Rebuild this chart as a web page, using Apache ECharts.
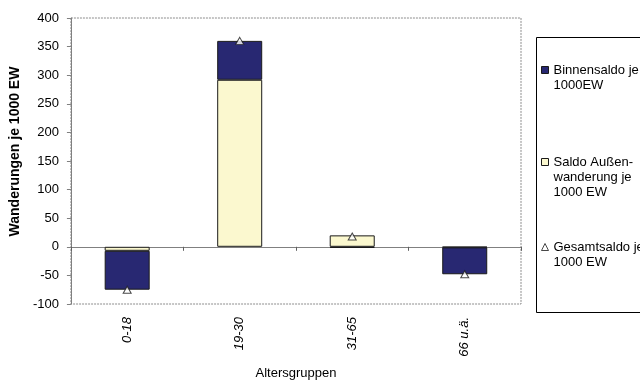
<!DOCTYPE html>
<html>
<head>
<meta charset="utf-8">
<script src="https://cdn.jsdelivr.net/npm/echarts@6/dist/echarts.min.js"></script>
<style>
  html, body { margin: 0; padding: 0; background: #fff; }
  #chart { width: 640px; height: 385px; }
</style>
</head>
<body>
<div id="chart"></div>
<script>
// Age groups and migration balances per 1000 inhabitants
const categories = ['0-18', '19-30', '31-65', '66 u.ä.'];
const saldoAussen = [-7, 292, 20, -1];     // Saldo Außenwanderung je 1000 EW
const binnensaldo = [-68, 68, -2, -47];    // Binnensaldo je 1000EW
const gesamtsaldo = [-75, 360, 18, -48];   // Gesamtsaldo je 1000 EW
const yTicks = { min: -100, max: 400, step: 50 };

const FONT = 'Liberation Sans, Arial, sans-serif';
const NAME_BINNEN = 'Binnensaldo je 1000EW';
const NAME_AUSSEN = 'Saldo Außenwanderung je 1000 EW';
const NAME_GESAMT = 'Gesamtsaldo je 1000 EW';

const COLOR_AUSSEN = '#fbf8cf';
const COLOR_BINNEN = '#282872';
const EDGE = '#1a1a1a';

// wrapped legend text; leading blank lines keep the icon beside the first line
const legendText = {};
legendText[NAME_BINNEN] = '\nBinnensaldo je\n1000EW';
legendText[NAME_AUSSEN] = '\n\nSaldo Außen-\nwanderung je\n1000 EW';
legendText[NAME_GESAMT] = '\nGesamtsaldo je\n1000 EW';

function legendAt(item, top) {
  return {
    data: [item],
    orient: 'vertical',
    left: 541,
    top: top,
    padding: 0,
    itemWidth: 7,
    itemHeight: 7,
    selectedMode: false,
    formatter: n => legendText[n],
    textStyle: { fontFamily: FONT, fontSize: 13, lineHeight: 15, color: '#000' }
  };
}

const chart = echarts.init(document.getElementById('chart'), null, { renderer: 'canvas' });

chart.setOption({
  animation: false,
  backgroundColor: '#fff',
  grid: {
    left: 67, right: 119, top: 18, bottom: 80,
    show: true,
    borderColor: '#8c8c8c',
    borderWidth: 1,
    borderType: [2, 1]
  },
  legend: [
    legendAt({ name: NAME_BINNEN, icon: 'rect',
      itemStyle: { color: COLOR_BINNEN, borderColor: EDGE, borderWidth: 1 } }, 70 - 22.5),
    legendAt({ name: NAME_AUSSEN, icon: 'rect',
      itemStyle: { color: COLOR_AUSSEN, borderColor: EDGE, borderWidth: 1 } }, 162 - 37.5),
    legendAt({ name: NAME_GESAMT, icon: 'triangle',
      itemStyle: { color: '#fff', borderColor: EDGE, borderWidth: 1 } }, 247 - 22.5)
  ],
  graphic: [{
    type: 'rect',
    shape: { x: 536.5, y: 37.5, width: 200, height: 275 },
    style: { fill: 'none', stroke: '#000', lineWidth: 1 },
    silent: true
  }],
  xAxis: [{
    type: 'category',
    data: categories,
    position: 'bottom',
    axisLine: { show: false, onZero: false },
    axisTick: { show: false },
    axisLabel: {
      rotate: 90,
      margin: 13,
      fontFamily: FONT,
      fontSize: 13,
      fontStyle: 'italic',
      color: '#000'
    },
    name: 'Altersgruppen',
    nameLocation: 'middle',
    nameGap: 63,
    nameTextStyle: { fontFamily: FONT, fontSize: 13, color: '#000' }
  }, {
    // zero line with category separators
    type: 'category',
    data: categories,
    position: 'top',
    axisLine: { show: true, onZero: true, lineStyle: { color: '#808080', width: 1 } },
    axisTick: { show: true, inside: true, length: 4, lineStyle: { color: '#606060' } },
    axisLabel: { show: false }
  }],
  yAxis: {
    type: 'value',
    min: yTicks.min,
    max: yTicks.max,
    interval: yTicks.step,
    axisLine: { show: true, lineStyle: { color: '#808080', width: 1 } },
    axisTick: { show: true, length: 4, lineStyle: { color: '#808080' } },
    splitLine: { show: false },
    axisLabel: { margin: 12, fontFamily: FONT, fontSize: 13, color: '#000' },
    name: 'Wanderungen je 1000 EW',
    nameLocation: 'middle',
    nameGap: 42,
    nameTextStyle: {
      fontFamily: FONT, fontSize: 14, fontWeight: 'bold', color: '#000',
      padding: [0, 0, 0, 19]
    }
  },
  series: [{
    name: NAME_AUSSEN,
    type: 'bar',
    stack: 'saldo',
    data: saldoAussen,
    barWidth: '40%',
    itemStyle: { color: COLOR_AUSSEN, borderColor: EDGE, borderWidth: 1 }
  }, {
    name: NAME_BINNEN,
    type: 'bar',
    stack: 'saldo',
    data: binnensaldo,
    barWidth: '40%',
    itemStyle: { color: COLOR_BINNEN, borderColor: EDGE, borderWidth: 1 }
  }, {
    name: NAME_GESAMT,
    type: 'scatter',
    data: gesamtsaldo,
    symbol: 'triangle',
    symbolSize: [8, 7],
    z: 5,
    itemStyle: { color: '#fff', borderColor: EDGE, borderWidth: 1 }
  }]
});
</script>
</body>
</html>
